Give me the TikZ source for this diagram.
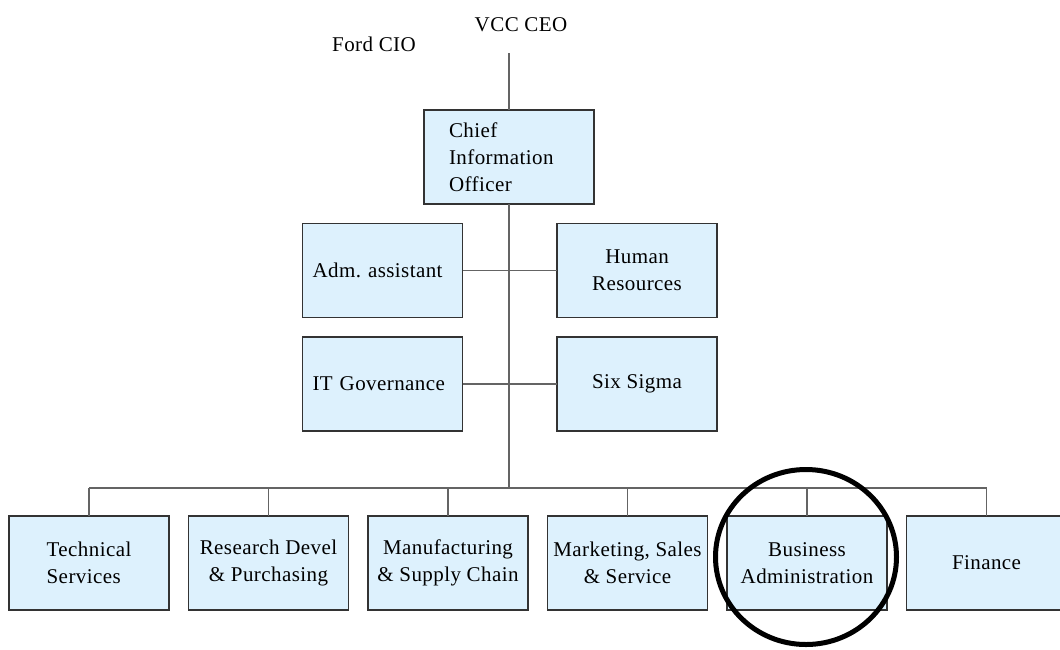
\documentclass[tikz,border=0pt]{standalone}
\usepackage{fontspec}
\setmainfont{Liberation Serif}[LetterSpace=2]
\frenchspacing
\usetikzlibrary{positioning}
\definecolor{boxfill}{RGB}{221,241,253}
\definecolor{boxline}{RGB}{51,51,51}
\definecolor{linkline}{RGB}{100,100,100}

\begin{document}
\begin{tikzpicture}[x=1pt, y=-1pt,
  unit/.style={draw=boxline, fill=boxfill, line width=1.2pt, outer sep=0, inner sep=0, minimum width=160pt, minimum height=94pt, align=center, font=\fontsize{21}{27}\selectfont},
  heading/.style={inner sep=0, font=\fontsize{21}{27}\selectfont},
  link/.style={draw=linkline, line width=1.5pt},
  ring/.style={draw=black, line width=5pt},
  node distance=19.5pt]

\useasboundingbox (0,0) rectangle (1060,649);

\node[heading] (vccceo) at (521,25) {VCC CEO};
\node[heading] (fordcio) at (374,44) {Ford CIO};
\coordinate (ceo_line) at (509,53);
\node[unit, minimum width=170pt, text width=120pt, align=left] (cio) at (509,157) {Chief\\Information\\Officer};
\node[unit, text width=140pt, align=left] (adm) at (382.5,270.5) {Adm. assistant};
\node[unit] (hr) at (637,270.5) {Human\\Resources};
\node[unit, text width=140pt, align=left] (itgov) at (382.5,384) {IT Governance};
\node[unit] (sixsigma) at (637,384) {Six Sigma};
\coordinate (bar) at (509,488);
\node[unit, align=left] (tech) at (89,563) {Technical\\Services};
\node[unit] (rnd) [right=of tech] {Research Devel\\\& Purchasing};
\node[unit] (manuf) [right=of rnd] {Manufacturing\\\& Supply Chain};
\node[unit] (market) [right=of manuf] {Marketing, Sales\\\& Service};
\node[unit] (busadm) [right=of market] {Business\\Administration};
\node[unit] (finance) [right=of busadm] {Finance};

\draw[link] (ceo_line) -- (cio);
\draw[link] (cio) -- (cio.south |- bar);
\draw[link] (adm) -- (hr);
\draw[link] (itgov) -- (sixsigma);
\draw[link] (tech.north |- bar) -- (finance.north |- bar);
\foreach \n in {tech,rnd,manuf,market,busadm,finance}
  \draw[link] (\n) -- (\n.north |- bar);

\draw[ring] ([shift={(-1,-6)}]busadm.center) ellipse [x radius=90.5pt, y radius=87.5pt];

\end{tikzpicture}
\end{document}
